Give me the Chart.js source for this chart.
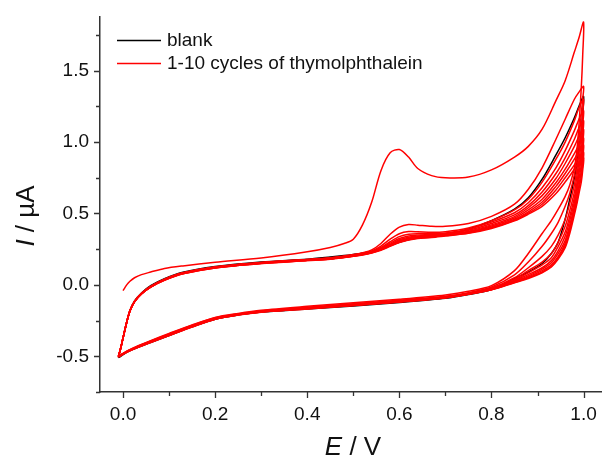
<!DOCTYPE html>
<html>
<head>
<meta charset="utf-8">
<script src="https://cdn.jsdelivr.net/npm/chart.js@4.4.1/dist/chart.umd.min.js"></script>
<style>
  html, body { margin: 0; padding: 0; background: #fff; }
  canvas { display: block; }
</style>
</head>
<body>
<canvas id="cvChart" width="602" height="461"></canvas>
<script>
// potentials (V) of the anodic and cathodic sweeps
const eForward = [-0.01, -0.005, 0.0, 0.008, 0.015, 0.025, 0.04, 0.06, 0.09, 0.13, 0.2, 0.3, 0.4,
  0.45, 0.48, 0.5, 0.52, 0.54, 0.56, 0.58, 0.6, 0.62, 0.64, 0.67, 0.7, 0.75, 0.8, 0.85, 0.88, 0.91, 0.94, 0.96, 0.98, 0.99, 1.0];
const eReverse = [0.998, 0.995, 0.99, 0.985, 0.98, 0.97, 0.96, 0.945, 0.93, 0.91, 0.88, 0.85, 0.8, 0.75,
  0.7, 0.6, 0.5, 0.4, 0.3, 0.25, 0.2, 0.15, 0.1, 0.06, 0.03, 0.01, -0.01];

// blank electrode (uA)
const blankFwd = [-0.51, -0.445, -0.37, -0.26, -0.18, -0.113, -0.057, -0.006, 0.043, 0.088, 0.128, 0.16, 0.18,
  0.195, 0.205, 0.213, 0.222, 0.234, 0.25, 0.275, 0.298, 0.316, 0.328, 0.34, 0.352, 0.39, 0.45, 0.53, 0.61, 0.74, 0.91, 1.03, 1.17, 1.25, 1.32];
const blankRev = [1.2, 1.08, 0.95, 0.84, 0.75, 0.6, 0.46, 0.3, 0.22, 0.15, 0.09, 0.045, -0.033, -0.068,
  -0.094, -0.123, -0.148, -0.169, -0.19, -0.21, -0.24, -0.294, -0.354, -0.403, -0.44, -0.469, -0.51];

// thymolphthalein, cycles 1-10 (uA)
const cyc1Fwd = [null, null, -0.04, 0.0, 0.025, 0.05, 0.072, 0.09, 0.115, 0.133, 0.158, 0.188, 0.232,
  0.262, 0.29, 0.32, 0.42, 0.58, 0.8, 0.925, 0.948, 0.895, 0.815, 0.765, 0.75, 0.755, 0.805, 0.895, 0.97, 1.09, 1.29, 1.43, 1.63, 1.73, 1.84];
const cyc1Rev = [1.6, 1.38, 1.12, 0.93, 0.82, 0.7, 0.62, 0.53, 0.45, 0.36, 0.22, 0.1, -0.005, -0.045,
  -0.07, -0.1, -0.125, -0.15, -0.178, -0.2, -0.228, -0.28, -0.34, -0.39, -0.43, -0.46, -0.5];
const cyc2Fwd = [-0.5, -0.44, -0.37, -0.26, -0.18, -0.115, -0.06, -0.01, 0.04, 0.085, 0.126, 0.157, 0.178,
  0.19, 0.203, 0.212, 0.225, 0.245, 0.29, 0.355, 0.405, 0.423, 0.418, 0.41, 0.41, 0.43, 0.48, 0.565, 0.67, 0.82, 1.02, 1.16, 1.3, 1.35, 1.39];
const cyc2Rev = [1.3, 1.2, 1.02, 0.88, 0.77, 0.64, 0.55, 0.44, 0.36, 0.27, 0.16, 0.07, -0.015, -0.055,
  -0.08, -0.108, -0.132, -0.156, -0.182, -0.203, -0.23, -0.283, -0.343, -0.393, -0.432, -0.462, -0.5];
const cyc3Fwd = [-0.5, -0.44, -0.37, -0.26, -0.18, -0.115, -0.06, -0.011, 0.039, 0.084, 0.125, 0.156, 0.177,
  0.188, 0.2, 0.209, 0.221, 0.238, 0.272, 0.32, 0.358, 0.373, 0.372, 0.368, 0.372, 0.398, 0.45, 0.525, 0.6, 0.72, 0.88, 1.0, 1.15, 1.24, 1.3];
const cyc3Rev = [1.2, 1.08, 0.93, 0.8, 0.7, 0.57, 0.46, 0.35, 0.27, 0.2, 0.12, 0.05, -0.022, -0.058,
  -0.083, -0.111, -0.135, -0.159, -0.184, -0.205, -0.233, -0.286, -0.346, -0.395, -0.434, -0.463, -0.5];
const cyc4Fwd = [-0.501, -0.441, -0.371, -0.261, -0.181, -0.116, -0.061, -0.012, 0.038, 0.083, 0.124, 0.155, 0.176,
  0.186, 0.198, 0.207, 0.218, 0.234, 0.262, 0.302, 0.338, 0.355, 0.359, 0.359, 0.364, 0.39, 0.44, 0.505, 0.575, 0.68, 0.82, 0.94, 1.08, 1.16, 1.22];
const cyc4Rev = [1.12, 1.0, 0.87, 0.75, 0.65, 0.52, 0.41, 0.3, 0.22, 0.16, 0.1, 0.04, -0.025, -0.06,
  -0.085, -0.113, -0.137, -0.161, -0.185, -0.206, -0.235, -0.288, -0.348, -0.397, -0.435, -0.464, -0.501];
const cyc5Fwd = [-0.502, -0.442, -0.372, -0.262, -0.182, -0.117, -0.062, -0.013, 0.037, 0.082, 0.123, 0.154, 0.175,
  0.185, 0.196, 0.205, 0.216, 0.231, 0.256, 0.292, 0.325, 0.343, 0.35, 0.352, 0.358, 0.382, 0.43, 0.49, 0.555, 0.65, 0.78, 0.89, 1.02, 1.1, 1.15];
const cyc5Rev = [1.05, 0.94, 0.82, 0.7, 0.61, 0.48, 0.37, 0.27, 0.19, 0.14, 0.085, 0.033, -0.027, -0.061,
  -0.086, -0.115, -0.139, -0.163, -0.186, -0.207, -0.236, -0.289, -0.349, -0.398, -0.436, -0.465, -0.502];
const cyc6Fwd = [-0.502, -0.442, -0.372, -0.262, -0.182, -0.117, -0.062, -0.014, 0.036, 0.081, 0.122, 0.153, 0.174,
  0.184, 0.195, 0.204, 0.214, 0.229, 0.252, 0.285, 0.316, 0.334, 0.343, 0.347, 0.354, 0.376, 0.42, 0.478, 0.54, 0.625, 0.745, 0.85, 0.97, 1.04, 1.09];
const cyc6Rev = [0.99, 0.89, 0.78, 0.67, 0.58, 0.45, 0.34, 0.24, 0.17, 0.12, 0.072, 0.028, -0.029, -0.062,
  -0.087, -0.116, -0.14, -0.164, -0.187, -0.208, -0.237, -0.29, -0.35, -0.399, -0.437, -0.466, -0.502];
const cyc7Fwd = [-0.502, -0.442, -0.372, -0.262, -0.182, -0.117, -0.063, -0.015, 0.035, 0.08, 0.121, 0.152, 0.173,
  0.183, 0.194, 0.203, 0.213, 0.227, 0.249, 0.28, 0.309, 0.327, 0.337, 0.342, 0.35, 0.371, 0.412, 0.468, 0.525, 0.6, 0.715, 0.81, 0.92, 0.98, 1.03];
const cyc7Rev = [0.94, 0.84, 0.74, 0.64, 0.55, 0.42, 0.31, 0.22, 0.155, 0.11, 0.063, 0.024, -0.031, -0.063,
  -0.088, -0.117, -0.141, -0.165, -0.188, -0.208, -0.238, -0.291, -0.351, -0.4, -0.438, -0.466, -0.503];
const cyc8Fwd = [-0.503, -0.443, -0.373, -0.263, -0.183, -0.118, -0.063, -0.015, 0.034, 0.079, 0.12, 0.151, 0.172,
  0.182, 0.193, 0.202, 0.212, 0.226, 0.247, 0.276, 0.304, 0.322, 0.332, 0.338, 0.347, 0.367, 0.405, 0.46, 0.512, 0.58, 0.69, 0.78, 0.88, 0.94, 0.98];
const cyc8Rev = [0.89, 0.8, 0.7, 0.61, 0.53, 0.4, 0.29, 0.2, 0.14, 0.1, 0.056, 0.02, -0.032, -0.064,
  -0.089, -0.118, -0.142, -0.166, -0.189, -0.209, -0.239, -0.292, -0.352, -0.401, -0.439, -0.467, -0.503];
const cyc9Fwd = [-0.503, -0.443, -0.373, -0.263, -0.183, -0.118, -0.064, -0.016, 0.033, 0.078, 0.119, 0.15, 0.171,
  0.181, 0.192, 0.201, 0.211, 0.225, 0.245, 0.273, 0.3, 0.318, 0.328, 0.335, 0.345, 0.364, 0.4, 0.453, 0.502, 0.565, 0.665, 0.75, 0.84, 0.895, 0.93];
const cyc9Rev = [0.84, 0.76, 0.67, 0.58, 0.51, 0.38, 0.275, 0.19, 0.13, 0.09, 0.05, 0.017, -0.034, -0.065,
  -0.09, -0.119, -0.144, -0.167, -0.19, -0.21, -0.24, -0.294, -0.354, -0.402, -0.44, -0.468, -0.504];
const cyc10Fwd = [-0.504, -0.444, -0.374, -0.264, -0.184, -0.119, -0.064, -0.016, 0.032, 0.077, 0.118, 0.149, 0.17,
  0.18, 0.191, 0.2, 0.21, 0.224, 0.243, 0.27, 0.296, 0.314, 0.325, 0.332, 0.343, 0.361, 0.395, 0.448, 0.495, 0.55, 0.64, 0.72, 0.81, 0.86, 0.89];
const cyc10Rev = [0.8, 0.72, 0.64, 0.56, 0.49, 0.36, 0.26, 0.18, 0.125, 0.085, 0.045, 0.015, -0.035, -0.066,
  -0.091, -0.12, -0.145, -0.168, -0.191, -0.211, -0.241, -0.295, -0.355, -0.403, -0.44, -0.468, -0.505];

const cycles = [
  [cyc1Fwd, cyc1Rev], [cyc2Fwd, cyc2Rev], [cyc3Fwd, cyc3Rev], [cyc4Fwd, cyc4Rev], [cyc5Fwd, cyc5Rev],
  [cyc6Fwd, cyc6Rev], [cyc7Fwd, cyc7Rev], [cyc8Fwd, cyc8Rev], [cyc9Fwd, cyc9Rev], [cyc10Fwd, cyc10Rev]
];

// ticks
const xTickValues = [0, 0.1, 0.2, 0.3, 0.4, 0.5, 0.6, 0.7, 0.8, 0.9, 1.0];
const xTickLabels = ['0.0', '', '0.2', '', '0.4', '', '0.6', '', '0.8', '', '1.0'];
const yTickValues = [-0.75, -0.5, -0.25, 0, 0.25, 0.5, 0.75, 1.0, 1.25, 1.5, 1.75];
const yTickLabels = ['', '-0.5', '', '0.0', '', '0.5', '', '1.0', '', '1.5', ''];

const legendItems = ['blank', '1-10 cycles of thymolphthalein'];

function toPoints(E, I) {
  const pts = [];
  E.forEach((e, i) => { if (I[i] != null) pts.push({ x: e, y: I[i] }); });
  return pts;
}

const AXIS = '#333333';
const FONT = 'Arial, "Liberation Sans", sans-serif';

const datasets = [];
cycles.forEach((c, k) => {
  datasets.push({
    label: 'cycle ' + (k + 1),
    data: toPoints(eForward, c[0]).concat(toPoints(eReverse, c[1])),
    borderColor: '#ff0000',
    borderWidth: 1.5,
    order: 1
  });
});
datasets.push({
  label: legendItems[0],
  data: toPoints(eForward, blankFwd).concat(toPoints(eReverse, blankRev)),
  borderColor: '#000000',
  borderWidth: 1.5,
  order: 2
});

// minor/major tick marks, axis titles and the inset legend
const decorations = {
  id: 'decorations',
  afterDraw(chart) {
    const ctx = chart.ctx;
    const xs = chart.scales.x, ys = chart.scales.y;
    const area = chart.chartArea;
    ctx.save();
    ctx.strokeStyle = AXIS;
    ctx.lineWidth = 1.3;
    ctx.beginPath();
    xTickValues.forEach((v, i) => {
      const px = Math.round(xs.getPixelForValue(v)) + 0.5;
      const len = xTickLabels[i] ? 6 : 4;
      ctx.moveTo(px, area.bottom);
      ctx.lineTo(px, area.bottom + len);
    });
    yTickValues.forEach((v, i) => {
      const py = Math.round(ys.getPixelForValue(v)) + 0.5;
      const len = yTickLabels[i] ? 6 : 4;
      ctx.moveTo(area.left, py);
      ctx.lineTo(area.left - len, py);
    });
    ctx.stroke();

    // x title: E / V
    ctx.fillStyle = '#111';
    ctx.textBaseline = 'middle';
    const italic = 'italic 26px ' + FONT, normal = '26px ' + FONT;
    ctx.font = italic;
    const wE = ctx.measureText('E').width;
    ctx.font = normal;
    const wRest = ctx.measureText(' / V').width;
    let tx = 353 - (wE + wRest) / 2;
    ctx.font = italic; ctx.textAlign = 'left';
    ctx.fillText('E', tx, 448);
    ctx.font = normal;
    ctx.fillText(' / V', tx + wE, 448);

    // y title: I / µA
    ctx.save();
    ctx.translate(27, 216);
    ctx.rotate(-Math.PI / 2);
    ctx.font = italic;
    const wI = ctx.measureText('I').width;
    ctx.font = normal;
    const wRestY = ctx.measureText(' / \u00b5A').width;
    tx = -(wI + wRestY) / 2;
    ctx.font = italic;
    ctx.fillText('I', tx, 0);
    ctx.font = normal;
    ctx.fillText(' / \u00b5A', tx + wI, 0);
    ctx.restore();

    // legend
    const colors = ['#000000', '#ff0000'];
    const rows = [40, 63];
    ctx.font = '19px ' + FONT;
    ctx.lineWidth = 1.5;
    legendItems.forEach((t, i) => {
      ctx.strokeStyle = colors[i];
      ctx.beginPath();
      ctx.moveTo(117, rows[i] + 0.5);
      ctx.lineTo(161, rows[i] + 0.5);
      ctx.stroke();
      ctx.fillStyle = '#111';
      ctx.fillText(t, 167, rows[i] + 1);
    });
    ctx.restore();
  }
};

new Chart(document.getElementById('cvChart'), {
  type: 'scatter',
  data: { datasets: datasets },
  options: {
    responsive: false,
    animation: false,
    layout: { padding: { top: 15, right: 0, left: 0, bottom: 0 } },
    elements: {
      point: { radius: 0, hoverRadius: 0 },
      line: { tension: 0.3, fill: false }
    },
    showLine: true,
    plugins: {
      legend: { display: false },
      tooltip: { enabled: false }
    },
    scales: {
      x: {
        type: 'linear',
        min: -0.05,
        max: 1.04,
        afterBuildTicks: (s) => { s.ticks = xTickValues.map(v => ({ value: v })); },
        afterFit: (s) => { s.height = 69; },
        grid: { display: false, drawTicks: true, tickLength: 6 },
        border: { display: true, color: AXIS, width: 1.5 },
        ticks: {
          autoSkip: false,
          maxRotation: 0,
          padding: 5,
          color: '#111',
          font: { family: FONT, size: 19 },
          callback: (v, i) => xTickLabels[i]
        }
      },
      y: {
        type: 'linear',
        min: -0.75,
        max: 1.88,
        afterBuildTicks: (s) => { s.ticks = yTickValues.map(v => ({ value: v })); },
        afterFit: (s) => { s.width = 100; },
        grid: { display: false, drawTicks: true, tickLength: 6 },
        border: { display: true, color: AXIS, width: 1.5 },
        ticks: {
          autoSkip: false,
          padding: 5,
          color: '#111',
          font: { family: FONT, size: 19 },
          callback: (v, i) => yTickLabels[i]
        }
      }
    }
  },
  plugins: [decorations]
});
</script>
</body>
</html>
